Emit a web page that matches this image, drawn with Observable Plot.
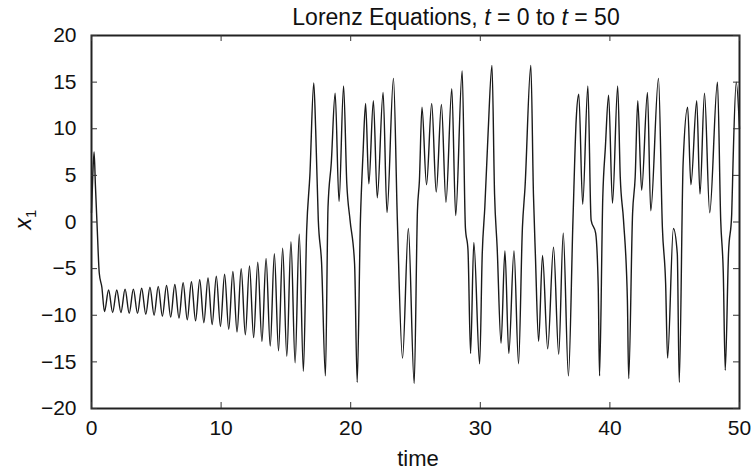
<!DOCTYPE html>
<html><head><meta charset="utf-8">
<script src="https://cdn.jsdelivr.net/npm/d3@7"></script>
<script src="https://cdn.jsdelivr.net/npm/@observablehq/plot@0.6"></script>
<style>body{margin:0;background:#fff} svg{display:block}</style>
</head><body><div id="chart"></div>
<script>
// time values (extrema and shoulder points)
const tValues = [
  0, 0.1, 0.2, 0.3, 0.45, 0.6, 0.8,
  1.0, 1.32, 1.63, 1.95, 2.27, 2.59, 2.91, 3.23, 3.55, 3.87, 4.19, 4.51, 4.83, 5.15, 5.47, 5.79,
  6.11, 6.43, 6.75, 7.07, 7.39, 7.71, 8.03, 8.35, 8.67, 8.99, 9.31, 9.63, 9.95, 10.27, 10.59, 10.91,
  11.23, 11.55, 11.87, 12.19, 12.51, 12.83, 13.15, 13.47, 13.79, 14.11, 14.43, 14.75, 15.07, 15.39,
  15.71, 16.03, 16.35,
  16.6, 16.85, 17.15, 17.3, 17.5, 17.75, 18.05,
  18.25, 18.5, 18.8, 19.1, 19.45, 19.7, 19.95, 20.3, 20.5,
  20.75, 20.95, 21.15, 21.4, 21.75, 22.05, 22.5, 22.8, 23.3, 23.6, 24.0, 24.45, 24.9,
  25.15, 25.3, 25.5, 25.85, 26.25, 26.6, 27.0, 27.35, 27.8, 28.1, 28.6, 28.85, 29.05, 29.25, 29.5, 29.95,
  30.15, 30.35, 30.6, 30.9, 31.1, 31.3, 31.6, 31.9, 32.2, 32.6, 32.95,
  33.25, 33.45, 33.9, 34.1, 34.25, 34.5, 34.8, 35.2, 35.65, 36.05, 36.4, 36.8,
  37.15, 37.4, 37.6, 37.9, 38.3, 38.55, 38.9, 39.1, 39.2,
  39.45, 39.65, 39.9, 40.2, 40.6, 40.8, 41.05, 41.35, 41.45,
  41.75, 41.95, 42.15, 42.45, 42.9, 43.15, 43.75, 44.05, 44.3, 44.45, 44.9, 45.2, 45.35,
  45.65, 46.0, 46.25, 46.7, 46.95, 47.3, 47.7, 48.3, 48.55, 48.75, 48.9,
  49.15, 49.4, 49.5, 49.75, 50.0
];
// x1 values at those times
const x1Values = [
  1.0, 5.0, 7.5, 4.0, -1.0, -5.5, -7.0,
  -9.6, -7.3, -9.7, -7.3, -9.7, -7.2, -9.8, -7.2, -9.8, -7.1, -9.9, -7.0, -10.0, -6.9, -10.1, -6.8,
  -10.2, -6.7, -10.3, -6.5, -10.5, -6.4, -10.6, -6.2, -10.8, -6.0, -11.0, -5.8, -11.2, -5.6, -11.5, -5.3,
  -11.8, -5.0, -12.1, -4.7, -12.4, -4.3, -12.8, -3.9, -13.3, -3.4, -13.8, -2.8, -14.4, -2.1,
  -15.1, -1.3, -16.0,
  -1.0, 5.0, 14.9, 9.8, 0.2, -4.3, -16.5,
  1.6, 6.3, 13.8, 2.2, 14.6, 4.1, 0.2, -4.5, -17.2,
  0.2, 7.3, 12.7, 4.1, 13.0, 2.6, 13.9, 1.0, 15.4, 0.2, -14.6, -0.7, -17.3,
  1.2, 4.4, 12.3, 4.0, 12.7, 3.2, 12.6, 2.1, 14.3, 0.7, 16.2, -0.6, -3.0, -14.1, -2.2, -15.2,
  -3.4, 1.6, 9.5, 16.8, 3.0, -2.7, -13.0, -3.1, -14.1, -3.1, -15.2,
  -0.6, 3.7, 16.8, 3.0, -3.5, -12.8, -3.6, -13.6, -2.7, -14.2, -1.2, -16.5,
  0.2, 11.0, 13.7, 1.9, 14.6, 0.2, -1.2, -7.0, -16.5,
  2.6, 8.0, 13.6, 2.0, 14.6, 4.8, 0.2, -8.4, -16.8,
  0.9, 4.8, 13.0, 3.4, 13.9, 1.2, 15.4, -0.6, -6.6, -14.6, -0.7, -3.4, -17.2,
  6.3, 12.3, 4.0, 13.0, 3.0, 13.8, 1.0, 15.0, 0.2, -5.5, -15.9,
  -3.4, 0.9, 6.3, 15.0, 10.0
];
const xTicks = [0, 10, 20, 30, 40, 50];
const yTicks = [-20, -15, -10, -5, 0, 5, 10, 15, 20];
const xLabel = "time";

const data = tValues.map((t, i) => ({t, x1: x1Values[i]}));
const W = 754, H = 473, mL = 91, mR = 15, mT = 35, mB = 65;
const pw = W - mL - mR, ph = H - mT - mB;
const font = "'Liberation Sans', Arial, Helvetica, sans-serif";

const chart = Plot.plot({
  width: W, height: H,
  marginLeft: mL, marginRight: mR, marginTop: mT, marginBottom: mB,
  style: {fontFamily: font, fontSize: "21px", background: "#fff", color: "#111", overflow: "visible"},
  x: {domain: [0, 50]},
  y: {domain: [-20, 20]},
  marks: [
    Plot.lineY(data, {x: "t", y: "x1", stroke: "#1a1a1a", strokeWidth: 1.4, curve: "monotone-x"}),
    Plot.frame({stroke: "#222", strokeWidth: 2}),
    Plot.tickY(yTicks, {y: d => d, insetRight: pw - 6, stroke: "#333"}),
    Plot.tickY(yTicks, {y: d => d, insetLeft: pw - 6, stroke: "#333"}),
    Plot.tickX(xTicks, {x: d => d, insetTop: ph - 6, stroke: "#333"}),
    Plot.tickX(xTicks, {x: d => d, insetBottom: ph - 6, stroke: "#333"}),
    Plot.axisX({ticks: xTicks, tickSize: 0, tickPadding: 12, label: null}),
    Plot.axisY({ticks: yTicks, tickSize: 0, tickPadding: 15, label: null})
  ]
});

const svg = d3.select(chart);
// title with italic t
const title = svg.append("text")
  .attr("x", 456).attr("y", 25)
  .attr("text-anchor", "middle")
  .style("font-family", font).style("font-size", "23px").attr("fill", "#111");
const parts = [["Lorenz Equations, ", false], ["t", true], [" = 0 to ", false], ["t", true], [" = 50", false]];
parts.forEach(([s, it]) => title.append("tspan").text(s).style("font-style", it ? "italic" : "normal"));

// x label
svg.append("text")
  .attr("x", mL + pw / 2 + 3).attr("y", 466)
  .attr("text-anchor", "middle")
  .style("font-family", font).style("font-size", "22px").attr("fill", "#111")
  .text(xLabel);

// y label x₁
const yl = svg.append("text")
  .attr("transform", `translate(31,${mT + ph / 2 - 2}) rotate(-90)`)
  .attr("text-anchor", "middle")
  .style("font-family", font).style("font-size", "23px").attr("fill", "#111");
yl.append("tspan").text("x").style("font-style", "italic");
yl.append("tspan").text("1").attr("dy", 5).style("font-size", "15px");

document.getElementById("chart").append(chart);
</script>
</body></html>
